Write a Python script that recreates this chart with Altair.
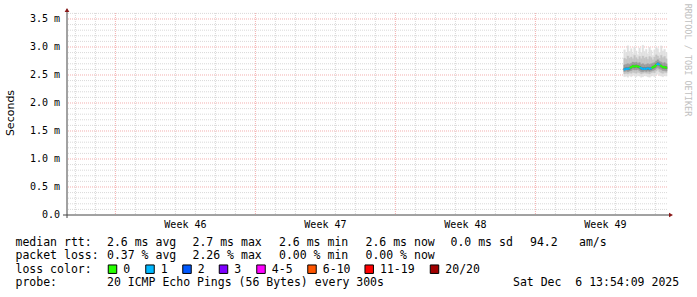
import altair as alt
import pandas as pd

# ---------------- data ----------------
sample_times = [
    "2025-12-04T10:00:00", "2025-12-04T12:00:00", "2025-12-04T14:00:00", "2025-12-04T16:00:00",
    "2025-12-04T18:00:00", "2025-12-04T20:00:00", "2025-12-04T22:00:00", "2025-12-05T00:00:00",
    "2025-12-05T02:00:00", "2025-12-05T04:00:00", "2025-12-05T06:00:00", "2025-12-05T08:00:00",
    "2025-12-05T10:00:00", "2025-12-05T12:00:00", "2025-12-05T14:00:00", "2025-12-05T16:00:00",
    "2025-12-05T18:00:00", "2025-12-05T20:00:00", "2025-12-05T22:00:00", "2025-12-06T00:00:00",
    "2025-12-06T02:00:00", "2025-12-06T04:00:00", "2025-12-06T06:00:00", "2025-12-06T08:00:00",
    "2025-12-06T10:00:00", "2025-12-06T12:00:00",
]
median_ms = [2.60, 2.61, 2.61, 2.62, 2.64, 2.66, 2.65, 2.66, 2.65, 2.64, 2.62, 2.61, 2.61,
             2.61, 2.62, 2.61, 2.62, 2.64, 2.65, 2.68, 2.70, 2.68, 2.66, 2.64, 2.64, 2.63]
loss_count = [1, 1, 1, 1, 0, 0, 0, 0, 0, 0, 1, 1, 1, 1, 1, 1, 1, 0, 0, 0, 1, 1, 0, 0, 0, 0]
smoke_min = [2.47, 2.48, 2.46, 2.49, 2.47, 2.50, 2.48, 2.47, 2.49, 2.48, 2.46, 2.47, 2.49,
             2.48, 2.47, 2.46, 2.48, 2.49, 2.47, 2.50, 2.52, 2.49, 2.48, 2.47, 2.49, 2.48]
smoke_p10 = [2.52, 2.53, 2.52, 2.54, 2.53, 2.55, 2.54, 2.53, 2.55, 2.54, 2.52, 2.53, 2.54,
             2.53, 2.53, 2.52, 2.54, 2.55, 2.54, 2.57, 2.59, 2.56, 2.54, 2.53, 2.55, 2.54]
smoke_p25 = [2.56, 2.57, 2.56, 2.57, 2.58, 2.60, 2.59, 2.59, 2.60, 2.58, 2.56, 2.56, 2.57,
             2.56, 2.57, 2.56, 2.57, 2.58, 2.59, 2.62, 2.63, 2.61, 2.60, 2.58, 2.58, 2.57]
smoke_p40 = [2.59, 2.60, 2.59, 2.60, 2.62, 2.64, 2.63, 2.64, 2.63, 2.62, 2.60, 2.59, 2.60,
             2.59, 2.60, 2.59, 2.60, 2.62, 2.63, 2.66, 2.68, 2.66, 2.64, 2.62, 2.62, 2.61]
smoke_p60 = [2.62, 2.63, 2.63, 2.64, 2.66, 2.68, 2.67, 2.68, 2.67, 2.66, 2.64, 2.63, 2.63,
             2.63, 2.64, 2.63, 2.64, 2.66, 2.67, 2.70, 2.72, 2.70, 2.68, 2.66, 2.66, 2.65]
smoke_p75 = [2.68, 2.69, 2.70, 2.69, 2.71, 2.73, 2.72, 2.73, 2.71, 2.72, 2.69, 2.70, 2.68,
             2.69, 2.70, 2.69, 2.70, 2.71, 2.72, 2.75, 2.77, 2.74, 2.73, 2.71, 2.72, 2.70]
smoke_p90 = [2.80, 2.78, 2.84, 2.80, 2.82, 2.79, 2.85, 2.81, 2.78, 2.83, 2.79, 2.84, 2.80,
             2.82, 2.78, 2.83, 2.81, 2.77, 2.82, 2.86, 2.84, 2.80, 2.85, 2.81, 2.83, 2.79]
smoke_max = [2.95, 2.90, 3.02, 2.92, 2.97, 2.88, 3.00, 2.93, 2.86, 2.98, 2.90, 3.03, 2.92,
             2.96, 2.88, 2.99, 2.94, 2.85, 2.95, 3.00, 2.97, 2.90, 3.02, 2.93, 2.96, 2.90]

week_sundays = ["2025-11-09", "2025-11-16", "2025-11-23", "2025-11-30"]
week_label_times = ["2025-11-12T12:00:00", "2025-11-19T12:00:00", "2025-11-26T12:00:00", "2025-12-03T12:00:00"]
week_labels = ["Week 46", "Week 47", "Week 48", "Week 49"]
y_ticks = [0.0, 0.5, 1.0, 1.5, 2.0, 2.5, 3.0, 3.5]
y_tick_labels = ["0.0\u00a0\u00a0", "0.5 m", "1.0 m", "1.5 m", "2.0 m", "2.5 m", "3.0 m", "3.5 m"]

legend_labels = ["0", "1", "2", "3", "4-5", "6-10", "11-19", "20/20"]
legend_colors = ["#26ff00", "#00b8ff", "#0059ff", "#7e00ff", "#ff00ff", "#ff5500", "#ff0000", "#a10000"]

row1 = ["median rtt:", "2.6 ms avg", "2.7 ms max", "2.6 ms min", "2.6 ms now", "0.0 ms sd", "94.2", "am/s"]
row2 = ["packet loss:", "0.37 % avg", "2.26 % max", "0.00 % min", "0.00 % now"]
row3 = ["loss color:"]
row4 = ["probe:", "20 ICMP Echo Pings (56 Bytes) every 300s", "Sat Dec\u00a0 6 13:54:09 2025"]

# ---------------- layout (pixels) ----------------
PL, PT, W, H = 67, 13, 600, 202
row1_x = [15.5, 107, 192.5, 279, 365.5, 450.5, 530, 579]
row2_x = [15.5, 107, 192.5, 279, 365.5]
row3_x = [15.5]
row4_x = [15.5, 107, 513]
row_base = [245.5, 259, 272.5, 286]
swatch_cx = [112.5, 150, 187, 223.5, 261, 312, 369.2, 434.5]
swatch_cy = 269.2


def ms(s):
    return int(pd.Timestamp(s, tz="UTC").value // 10**6)


t0 = ms("2025-11-06T13:54:09")
t1 = ms("2025-12-06T13:54:09")
xscale = alt.Scale(type="utc", domain=[t0, t1])
yscale = alt.Scale(domain=[0, 3.607], nice=False, zero=False)

step = 2 * 3600 * 1000
df = pd.DataFrame({
    "t": [ms(s) for s in sample_times],
    "median": median_ms,
    "loss": loss_count,
})
df["t2"] = df["t"] + step
loss_col = {0: legend_colors[0], 1: legend_colors[1], 2: legend_colors[2], 3: legend_colors[3]}
df["col"] = df["loss"].map(loss_col)

bands = [
    (smoke_min, smoke_max, "#e0e0e0"),
    (smoke_p10, smoke_p90, "#c4c4c4"),
    (smoke_p25, smoke_p75, "#9c9c9c"),
    (smoke_p40, smoke_p60, "#6e6e6e"),
]
bparts = []
for lo, hi, c in bands:
    bparts.append(pd.DataFrame({"t": df["t"], "t2": df["t2"], "lo": lo, "hi": hi, "c": c}))
band_df = pd.concat(bparts, ignore_index=True)

conn = pd.DataFrame({
    "t": df["t2"].iloc[:-1].values,
    "a": df["median"].iloc[:-1].values,
    "b": df["median"].iloc[1:].values,
    "col": df["col"].iloc[1:].values,
})

minor_y = [round(i * 0.1, 1) for i in range(1, 37) if i % 5 != 0]
major_y = [v for v in y_ticks if v > 0]
days = pd.date_range("2025-11-07", "2025-12-06", freq="D").strftime("%Y-%m-%d").tolist()
minor_x = [ms(d) for d in days if d not in week_sundays]
major_x = [ms(d) for d in week_sundays]

X = lambda f: alt.X(f, scale=xscale, axis=None)
Y = lambda f: alt.Y(f, scale=yscale, axis=None)

dash = [1, 1]
g_minor_h = alt.Chart(pd.DataFrame({"v": minor_y})).mark_rule(
    color="#d9d9d9", strokeDash=dash, strokeWidth=1).encode(y=Y("v:Q"))
g_minor_v = alt.Chart(pd.DataFrame({"t": minor_x})).mark_rule(
    color="#d9d9d9", strokeDash=dash, strokeWidth=1).encode(x=X("t:T"))
g_major_h = alt.Chart(pd.DataFrame({"v": major_y})).mark_rule(
    color="#f3b0b0", strokeDash=dash, strokeWidth=1).encode(y=Y("v:Q"))
g_major_v = alt.Chart(pd.DataFrame({"t": major_x})).mark_rule(
    color="#f3b0b0", strokeDash=dash, strokeWidth=1).encode(x=X("t:T"))

smoke = alt.Chart(band_df).mark_rect(strokeWidth=0.4).encode(
    x=X("t:T"), x2="t2:T", y=Y("lo:Q"), y2="hi:Q",
    fill=alt.Fill("c:N", scale=None),
    stroke=alt.Stroke("c:N", scale=None),
)

median_seg = alt.Chart(df).mark_rule(strokeWidth=2.2).encode(
    x=X("t:T"), x2="t2:T", y=Y("median:Q"),
    color=alt.Color("col:N", scale=None),
)
median_conn = alt.Chart(conn).mark_rule(strokeWidth=2.2).encode(
    x=X("t:T"), y=Y("a:Q"), y2="b:Q",
    color=alt.Color("col:N", scale=None),
)

ylab = alt.Chart(pd.DataFrame({"v": y_ticks, "lab": y_tick_labels})).mark_text(
    font="DejaVu Sans Mono", fontSize=10, color="#000000", align="right", baseline="middle", dx=-7).encode(
    x=alt.value(0), y=Y("v:Q"), text="lab:N")
xlab = alt.Chart(pd.DataFrame({"t": [ms(s) for s in week_label_times], "lab": week_labels})).mark_text(
    font="DejaVu Sans Mono", fontSize=10, color="#000000", align="center", baseline="middle").encode(
    x=X("t:T"), y=alt.value(224.5 - PT), text="lab:N")

axis_y = alt.Chart(pd.DataFrame({"k": [0]})).mark_rule(color="#444444", strokeWidth=1).encode(
    x=alt.value(0), y=alt.value(-4), y2=alt.value(H + 3))
axis_x = alt.Chart(pd.DataFrame({"k": [0]})).mark_rule(color="#444444", strokeWidth=1).encode(
    x=alt.value(-4), x2=alt.value(W + 3), y=alt.value(H))
arrow_up = alt.Chart(pd.DataFrame({"k": [0]})).mark_point(
    shape="triangle-up", filled=True, size=22, color="#8b1a1a", opacity=1).encode(
    x=alt.value(0), y=alt.value(-3))
arrow_right = alt.Chart(pd.DataFrame({"k": [0]})).mark_point(
    shape="triangle-right", filled=True, size=22, color="#8b1a1a", opacity=1).encode(
    x=alt.value(W + 4), y=alt.value(H))

# text layout table
trows = []
for texts, xs, base in [(row1, row1_x, row_base[0]), (row2, row2_x, row_base[1]),
                        (row3, row3_x, row_base[2]), (row4, row4_x, row_base[3])]:
    for tx, px in zip(texts, xs):
        trows.append({"text": tx, "px": px - PL, "py": base - PT})
for lab, cx in zip(legend_labels, swatch_cx):
    trows.append({"text": lab, "px": cx + 10.8 - PL, "py": row_base[2] - PT})
text_df = pd.DataFrame(trows)

legend_text = alt.Chart(text_df).mark_text(
    font="DejaVu Sans Mono", fontSize=11.5, color="#000000", align="left", baseline="alphabetic").encode(
    x=alt.X("px:Q", scale=None, axis=None),
    y=alt.Y("py:Q", scale=None, axis=None),
    text="text:N")

sw_df = pd.DataFrame({"px": [c - PL for c in swatch_cx], "py": [swatch_cy - PT] * len(swatch_cx),
                      "col": legend_colors})
swatches = alt.Chart(sw_df).mark_square(size=72, stroke="#000000", strokeWidth=1, opacity=1).encode(
    x=alt.X("px:Q", scale=None, axis=None),
    y=alt.Y("py:Q", scale=None, axis=None),
    fill=alt.Fill("col:N", scale=None))

ytitle = alt.Chart(pd.DataFrame({"text": ["Seconds"]})).mark_text(
    font="DejaVu Sans", fontSize=11, color="#000000", angle=270, align="center", baseline="middle").encode(
    x=alt.value(10.5 - PL), y=alt.value(113 - PT), text="text:N")
credit = alt.Chart(pd.DataFrame({"text": ["RRDTOOL / TOBI OETIKER"]})).mark_text(
    font="DejaVu Sans Mono", fontSize=8.5, color="#c0c0c0", angle=90, align="center", baseline="middle").encode(
    x=alt.value(688 - PL), y=alt.value(60 - PT), text="text:N")

chart = alt.layer(
    g_minor_h, g_minor_v, g_major_h, g_major_v,
    smoke, median_seg, median_conn,
    axis_x, axis_y, arrow_up, arrow_right,
    ylab, xlab,
    legend_text, swatches, ytitle, credit,
).properties(
    width=W, height=H,
    padding={"left": PL, "top": PT, "right": 697 - PL - W, "bottom": 297 - PT - H},
    autosize=alt.AutoSizeParams(type="none"),
    background="#ffffff",
).configure_view(stroke=None)

chart.save("out.html", embed_options={"renderer": "svg", "actions": False})
